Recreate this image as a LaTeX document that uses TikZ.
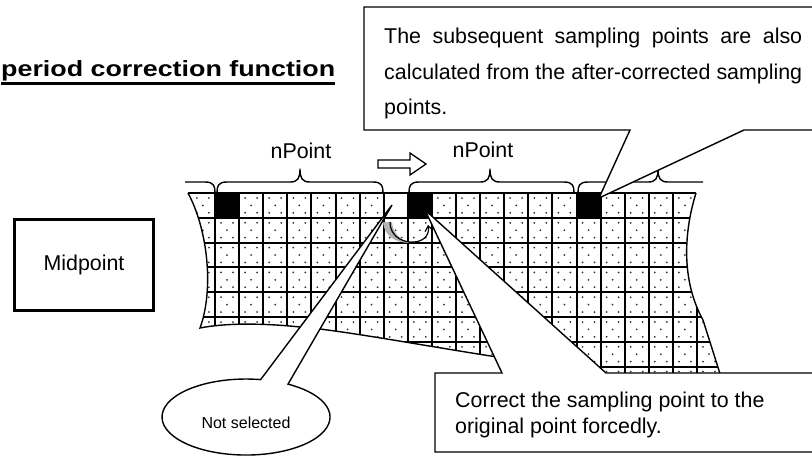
\documentclass[tikz,border=0pt]{standalone}
\usepackage{graphicx}
\usepackage{fontspec}
\setmainfont{Liberation Sans}
\usetikzlibrary{arrows.meta}

\begin{document}
\begin{tikzpicture}[
  x=1pt, y=-1pt,
  gridline/.style={line width=2pt, black},
  edgeline/.style={line width=1.4pt, black},
  bracepath/.style={line width=1.4pt, black, line join=round},
  callout/.style={draw=black, fill=white, line width=1.4pt, line join=miter},
  txt/.style={inner sep=0pt, font=\fontsize{21.4}{26}\selectfont}
]
\useasboundingbox (0,0) rectangle (812,456);

% title
\node[anchor=base west, inner sep=0pt, font=\fontsize{22}{26}\selectfont\bfseries] (title) at (1,76)
  {\scalebox{1.22}[1]{period correction function}};
\draw[line width=2.5pt] ([yshift=-2.6pt]title.south west) -- ([yshift=-2.6pt]title.south east);

% midpoint box
\node[txt, draw, line width=3pt, minimum width=139pt, minimum height=91pt] (midpt) at (84,265) {Midpoint};

% sample grid
\begin{scope}
  \clip (188,193) -- (696,193) .. controls (683,235) and (682,282) .. (703,320) -- (722,380)
    -- (722,400) -- (505,400) -- (497,357) .. controls (420,345) and (340,330) .. (300,327)
    .. controls (262,323) and (225,323) .. (200,328) .. controls (214,290) and (208,230) .. (188,193) -- cycle;
  \foreach \i in {-2,...,21}
    \foreach \j in {0,...,8}
      \foreach \dx/\dy in {6/5,18/5,12/12.4,6/19.8,18/19.8}
        \fill[black!80] (215+24.1*\i+\dx,193+24.8*\j+\dy) circle (1);
  \fill[white] (215+24.1*7,193) rectangle ++(24.1,24.8);
  \foreach \i in {0,8,15}
    \fill[black] (215+24.1*\i,193) rectangle ++(24.1,24.8);
  \foreach \i in {0,...,20}
    \draw[gridline] (215+24.1*\i,190) -- ++(0,215);
  \foreach \j in {1,...,8}
    \draw[gridline] (180,193+24.8*\j) -- ++(550,0);
\end{scope}
\draw[gridline] (188,193) -- (696,193);
\draw[edgeline] (696,193) .. controls (683,235) and (682,282) .. (703,320) -- (722,380);
\draw[edgeline] (497,357) .. controls (420,345) and (340,330) .. (300,327)
  .. controls (262,323) and (225,323) .. (200,328) .. controls (214,290) and (208,230) .. (188,193);

% period braces
\draw[bracepath] (185,182) -- (205,182) .. controls (214,182) and (215,186) .. (215,193);
\foreach \a/\m/\b in {217/300/383, 409/490/574}
  \draw[bracepath] (\a,193) .. controls (\a,186) and (\a+1,182) .. (\a+10,182) -- (\m-10,182)
    .. controls (\m-2,182) and (\m,178) .. (\m,169) .. controls (\m,178) and (\m+2,182) .. (\m+10,182)
    -- (\b-10,182) .. controls (\b-1,182) and (\b,186) .. (\b,193);
\draw[bracepath] (578,193) .. controls (578,186) and (579,182) .. (588,182) -- (648,182)
  .. controls (656,182) and (658,178) .. (658,169) .. controls (658,178) and (660,182) .. (668,182) -- (703,182);

\node[txt, anchor=base] (np1) at (301,158) {nPoint};
\node[txt, anchor=base] (np2) at (483,157) {nPoint};

% shift arrow
\draw[line width=1.3pt, fill=white] (378,160) -- (410,160) -- (410,153) -- (426,164)
  -- (410,175) -- (410,168) -- (378,168) -- cycle;

% correction arrow
\fill[black!30] (383,222) .. controls (384,236) and (396,243) .. (410,243)
  .. controls (400,240) and (393,233) .. (392,222) -- cycle;
\draw[line width=1.2pt, -{Straight Barb[length=5pt,width=8pt]}] (390,222) .. controls (390,248) and (432,248) .. (428,225);

% callouts
\draw[callout] (364,7) -- (830,7) -- (830,130) -- (744,130) -- (599,198) -- (630,130) -- (364,130) -- cycle;
\node[txt, anchor=north west, text width=418pt, align=justify, font=\fontsize{21.4}{35.5}\selectfont] (upnote) at (384,28)
  {\exhyphenpenalty=10000\hyphenpenalty=10000 The subsequent sampling points are also\linebreak calculated from the after-corrected sampling\linebreak points.};

\draw[callout] (435,373) -- (502,373) -- (425,210) -- (606,373) -- (830,373) -- (830,452) -- (435,452) -- cycle;
\node[txt, anchor=north west, align=left] (lownote) at (455,391.7)
  {Correct the sampling point to the\\original point forcedly.};

\draw[callout] (260.6,379.6) arc[start angle=-80, end angle=-420, x radius=84, y radius=38] -- (392,205) -- cycle;
\node[inner sep=0pt, font=\fontsize{16}{19}\selectfont] (notsel) at (246,423) {Not selected};

\end{tikzpicture}
\end{document}
